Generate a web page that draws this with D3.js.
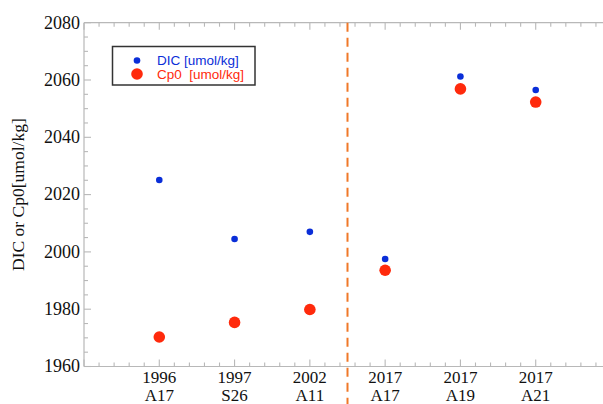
<!DOCTYPE html>
<html>
<head>
<meta charset="utf-8">
<script src="https://cdn.jsdelivr.net/npm/d3@7"></script>
<style>
  html, body { margin: 0; padding: 0; background: #fff; }
  svg { display: block; }
  .serif { font-family: "Liberation Serif", "Times New Roman", serif; }
  .sans { font-family: "Liberation Sans", Arial, sans-serif; }
</style>
</head>
<body>
<svg id="chart" width="603" height="404"></svg>
<script>
// Cruise labels (year / section) and the two measured quantities
const years    = ["1996", "1997", "2002", "2017", "2017", "2017"];
const sections = ["A17", "S26", "A11", "A17", "A19", "A21"];
const dic      = [2025.1, 2004.5, 2007.0, 1997.5, 2061.2, 2056.5];
const cp0      = [1970.3, 1975.4, 1979.9, 1993.6, 2056.9, 2052.3];
const yTicks   = [1960, 1980, 2000, 2020, 2040, 2060, 2080];
const dividerAt = 3.5;   // separates the older cruises from the 2017 ones

const svg = d3.select("#chart");
const plot = { left: 84, top: 22.7, right: 611, bottom: 366.5 };

const x = d3.scaleLinear().domain([0, 7]).range([plot.left, plot.right]);
const y = d3.scaleLinear().domain([1960, 2080]).range([plot.bottom, plot.top]);

const axisColor = "#b8b8b8";

// Frame lines (left, top, bottom)
const frame = svg.append("g").attr("stroke", axisColor).attr("stroke-width", 1.2);
frame.append("line").attr("x1", plot.left).attr("x2", plot.left).attr("y1", plot.top).attr("y2", plot.bottom);
frame.append("line").attr("x1", plot.left).attr("x2", plot.right).attr("y1", plot.top).attr("y2", plot.top);
frame.append("line").attr("x1", plot.left).attr("x2", plot.right).attr("y1", plot.bottom).attr("y2", plot.bottom);

// Inward tick marks: x major at each cruise, 5 subdivisions; y major every 20, 4 subdivisions
const xMinor = d3.range(0, 7.001, 0.2);
const yMinor = d3.range(1960, 2080.001, 5);
const ticks = svg.append("g").attr("stroke", axisColor).attr("stroke-width", 1.1);
xMinor.forEach(v => {
  const major = Math.abs(v - Math.round(v)) < 1e-6;
  const len = major ? 7 : 4;
  ticks.append("line").attr("x1", x(v)).attr("x2", x(v)).attr("y1", plot.bottom).attr("y2", plot.bottom - len);
  ticks.append("line").attr("x1", x(v)).attr("x2", x(v)).attr("y1", plot.top).attr("y2", plot.top + len);
});
yMinor.forEach(v => {
  const major = v % 20 === 0;
  const len = major ? 7 : 4;
  ticks.append("line").attr("x1", plot.left).attr("x2", plot.left + len).attr("y1", y(v)).attr("y2", y(v));
});

// Y tick labels
const yl = svg.append("g").attr("class", "serif").attr("font-size", 18)
  .attr("fill", "#111").attr("text-anchor", "end");
yTicks.forEach(t => {
  yl.append("text").attr("x", 80).attr("y", y(t) + 5.8).text(String(t));
});

// X category labels (two lines)
const xl = svg.append("g").attr("class", "serif").attr("font-size", 17)
  .attr("fill", "#111").attr("text-anchor", "middle");
years.forEach((yr, i) => {
  xl.append("text").attr("x", x(i + 1)).attr("y", 383).text(yr);
  xl.append("text").attr("x", x(i + 1)).attr("y", 401).text(sections[i]);
});

// Y axis title
svg.append("text").attr("class", "serif")
  .attr("transform", `translate(24,${(plot.top + plot.bottom) / 2}) rotate(-90)`)
  .attr("text-anchor", "middle")
  .attr("font-size", 17.5).attr("fill", "#111")
  .text("DIC or Cp0[umol/kg]");

// Vertical dashed divider
svg.append("line")
  .attr("x1", x(dividerAt)).attr("x2", x(dividerAt))
  .attr("y1", plot.top).attr("y2", 404)
  .attr("stroke", "#f07828").attr("stroke-width", 2)
  .attr("stroke-dasharray", "9,6");

// Data points
const blue = "#0a2ed8", red = "#ff2a0c";
svg.append("g").selectAll("circle").data(cp0).join("circle")
  .attr("cx", (d, i) => x(i + 1)).attr("cy", d => y(d)).attr("r", 5.8).attr("fill", red);
svg.append("g").selectAll("circle").data(dic).join("circle")
  .attr("cx", (d, i) => x(i + 1)).attr("cy", d => y(d)).attr("r", 3.3).attr("fill", blue);

// Legend
const lg = svg.append("g");
lg.append("rect").attr("x", 112.5).attr("y", 46.5).attr("width", 142.5).attr("height", 38.5)
  .attr("fill", "#fff").attr("stroke", "#333").attr("stroke-width", 1.5);
lg.append("circle").attr("cx", 137).attr("cy", 60.5).attr("r", 3.3).attr("fill", blue);
lg.append("circle").attr("cx", 137).attr("cy", 74).attr("r", 5.8).attr("fill", red);
lg.append("text").attr("class", "sans").attr("x", 157).attr("y", 65).attr("font-size", 13.5)
  .attr("fill", blue).text("DIC [umol/kg]");
lg.append("text").attr("class", "sans").attr("x", 157).attr("y", 79).attr("font-size", 13.5)
  .attr("fill", red).style("white-space", "pre").text("Cp0  [umol/kg]");
</script>
</body>
</html>
